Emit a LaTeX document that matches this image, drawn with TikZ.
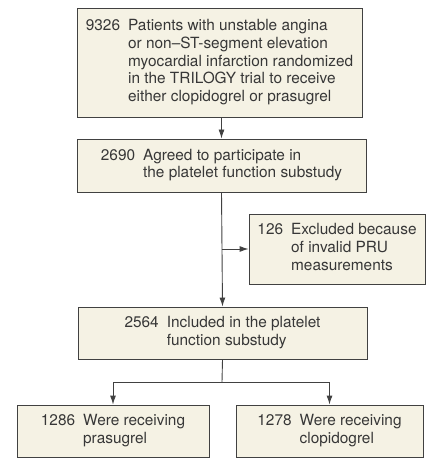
\documentclass[tikz,border=0pt]{standalone}
\usepackage{fontspec}
\setmainfont{TeX Gyre Heros}
\usetikzlibrary{arrows}
\usetikzlibrary{arrows.meta}
\definecolor{boxfill}{RGB}{245,242,228}
\definecolor{boxline}{RGB}{65,65,65}
\definecolor{boxtext}{RGB}{55,55,55}
\newcommand{\flowtext}[2]{\begin{tabular}{@{}l@{\hspace{8pt}}l@{}}#1&\begin{tabular}[t]{@{}l@{}}#2\end{tabular}\end{tabular}}

\begin{document}
\begin{tikzpicture}[x=1pt,y=-1pt,
  box/.style={draw=boxline, fill=boxfill, line width=0.9pt, inner sep=0pt, text=boxtext, font=\fontsize{15.4}{17.7}\selectfont},
  link/.style={draw=boxline, line width=0.9pt, -{Latex[length=9pt,width=6pt]}}]
\useasboundingbox (0,0) rectangle (427,462);
% boxes
\node[box, minimum width=285pt, minimum height=109pt] (rand) at (219.5,62.5)
  {\flowtext{9326}{Patients with unstable angina\\or non--ST-segment elevation\\myocardial infarction randomized\\in the TRILOGY trial to receive\\either clopidogrel or prasugrel}};
\node[box, minimum width=289pt, minimum height=53pt] (agreed) at (221.5,165.5)
  {\flowtext{2690}{Agreed to participate in\\the platelet function substudy}};
\node[box, minimum width=176pt, minimum height=70pt] (excl) at (337,249)
  {\flowtext{126}{Excluded because\\of invalid PRU\\measurements}};
\node[box, minimum width=289pt, minimum height=52pt] (incl) at (222.5,333)
  {\flowtext{2564}{Included in the platelet\\function substudy}};
\node[box, minimum width=192pt, minimum height=52pt] (pras) at (113,431)
  {\flowtext{1286}{Were receiving\\prasugrel}};
\node[box, minimum width=187pt, minimum height=52pt] (clop) at (329.5,431)
  {\flowtext{1278}{Were receiving\\clopidogrel}};
\coordinate (split) at (222,382);
% connectors
\draw[link] (rand.south -| agreed.north) -- (agreed.north);
\draw[link] (agreed.south) -- (incl.north);
\draw[link] (agreed.south |- excl.west) -- (excl.west);
\draw[draw=boxline, line width=0.9pt] (incl.south) -- (split);
\draw[link] (split) -| (pras.north);
\draw[link] (split) -| (clop.north);
\end{tikzpicture}
\end{document}
